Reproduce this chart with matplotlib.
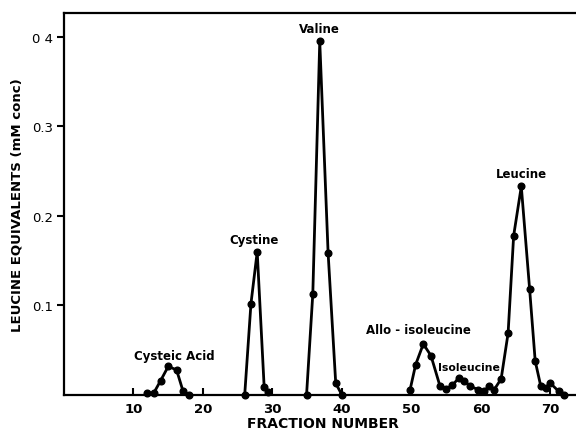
import matplotlib
matplotlib.use("Agg")
import matplotlib.pyplot as plt

# Fraction numbers and leucine-equivalent values (mM conc)
cysteic_x = [12.0, 12.9, 13.9, 15.0, 16.2, 17.1, 18.0]
cysteic_y = [0.002, 0.002, 0.016, 0.032, 0.028, 0.005, 0.0]

cystine_x = [26.0, 26.9, 27.8, 28.8, 29.4]
cystine_y = [0.0, 0.102, 0.160, 0.009, 0.003]

valine_x = [34.9, 35.8, 36.8, 38.0, 39.1, 40.0]
valine_y = [0.0, 0.113, 0.395, 0.159, 0.013, 0.0]

late_x = [49.8, 50.6, 51.7, 52.8, 54.1, 55.0, 55.9, 56.8, 57.6, 58.4, 59.6,
          60.4, 61.2, 61.9, 62.9, 63.9, 64.7, 65.8, 67.0, 67.8, 68.6, 69.4,
          70.0, 71.2, 72.0]
late_y = [0.006, 0.034, 0.057, 0.044, 0.010, 0.007, 0.011, 0.019, 0.016, 0.010, 0.006,
          0.004, 0.010, 0.006, 0.018, 0.069, 0.178, 0.233, 0.118, 0.038, 0.010, 0.008,
          0.013, 0.004, 0.0]

peak_labels = ["Cysteic Acid", "Cystine", "Valine", "Allo - isoleucine", "Isoleucine", "Leucine"]
label_x = [15.9, 27.3, 36.8, 51.0, 58.3, 65.8]
label_y = [0.037, 0.167, 0.402, 0.066, 0.026, 0.240]

xticks = [10, 20, 30, 40, 50, 60, 70]
yticks = [0.1, 0.2, 0.3, 0.4]
ytick_labels = ["0.1", "0.2", "0.3", "0 4"]

fig = plt.figure(figsize=(5.76, 4.35), dpi=100)
ax = fig.add_axes([64 / 576, 39 / 435, 1 - 64 / 576 + 0.01, 382 / 435])

for xs, ys in [(cysteic_x, cysteic_y), (cystine_x, cystine_y),
               (valine_x, valine_y), (late_x, late_y)]:
    ax.plot(xs, ys, color="black", lw=2.0, marker="o", ms=4.8,
            solid_joinstyle="round", clip_on=False, zorder=3)

for t, x, y in zip(peak_labels, label_x, label_y):
    size = 7.8 if t == "Isoleucine" else 8.5
    ax.text(x, y, t, ha="center", va="bottom", fontsize=size, fontweight="bold",
            family="DejaVu Sans")

ax.set_xlim(0, 74.5)
ax.set_ylim(0, 0.4268)
ax.set_xticks(xticks)
ax.set_xticklabels([str(v) for v in xticks], fontsize=9.5, fontweight="bold")
ax.set_yticks(yticks)
ax.set_yticklabels(ytick_labels, fontsize=9.5)
ax.tick_params(axis="x", direction="in", length=5, width=1.5, pad=5)
ax.tick_params(axis="y", direction="out", length=5, width=1.5, pad=3)

for s in ["left", "bottom", "top"]:
    ax.spines[s].set_linewidth(1.6)
ax.spines["right"].set_visible(False)

ax.set_xlabel("FRACTION NUMBER", fontsize=10, fontweight="bold", labelpad=1)
ax.set_ylabel("LEUCINE EQUIVALENTS (mM conc)", fontsize=9.5, fontweight="bold", labelpad=6)

fig.savefig("out.png", dpi=100)
